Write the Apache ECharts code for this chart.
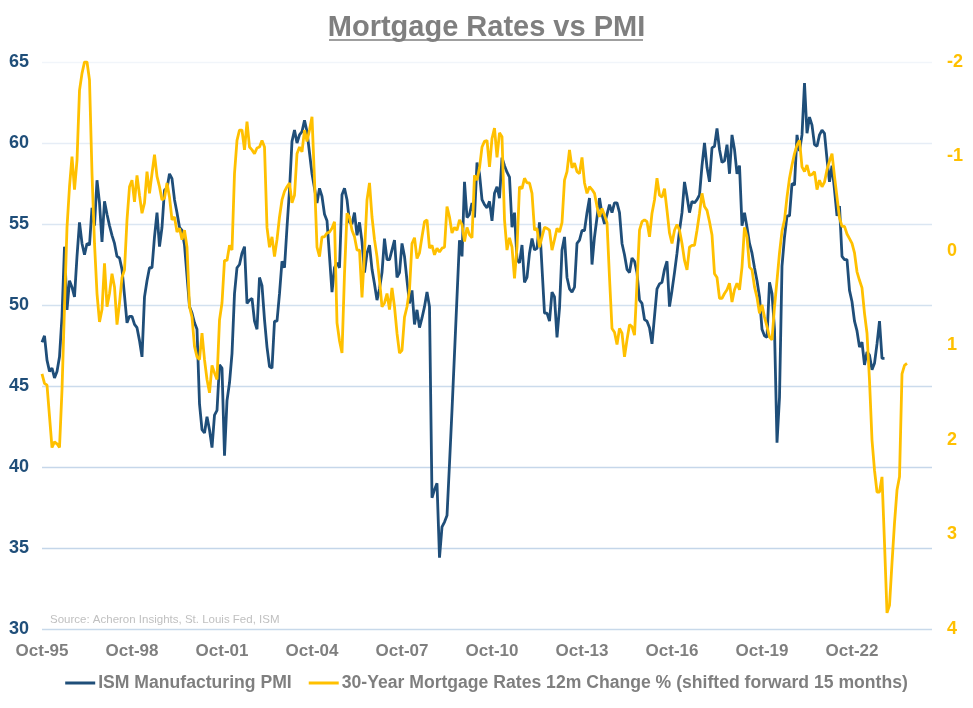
<!DOCTYPE html>
<html>
<head>
<meta charset="utf-8">
<script src="https://cdn.jsdelivr.net/npm/echarts@6/dist/echarts.min.js"></script>
<style>
html,body{margin:0;padding:0;background:#fff;}
#chart{width:973px;height:708px;}
</style>
</head>
<body>
<div id="chart"></div>
<script>
// ---- Data ----
const startYear = 1995, startMonthIndex = 9, monthCount = 357; // monthly axis from Oct-95
const monthNames = ['Jan','Feb','Mar','Apr','May','Jun','Jul','Aug','Sep','Oct','Nov','Dec'];
const categories = [];
for (let k = 0; k < monthCount; k++) {
  const m = (startMonthIndex + k) % 12;
  const y = startYear + Math.floor((startMonthIndex + k) / 12);
  categories.push(monthNames[m] + '-' + String(y % 100).padStart(2, '0'));
}
const tickLabels = ['Oct-95','Oct-98','Oct-01','Oct-04','Oct-07','Oct-10','Oct-13','Oct-16','Oct-19','Oct-22'];
const leftTicks = [30, 35, 40, 45, 50, 55, 60, 65];
const rightTicks = [-2, -1, 0, 1, 2, 3, 4];

const ismPMI = [
  47.7, 48.1, 46.6, 45.9, 46.1, 45.5, 45.9, 46.8, 49.3, 53.6,
  49.7, 51.5, 51.1, 50.5, 53.0, 55.1, 53.8, 53.1, 53.8, 53.7,
  56.0, 54.9, 57.7, 56.3, 53.9, 56.4, 55.6, 54.9, 54.3, 53.8,
  53.0, 52.9, 52.2, 50.6, 48.9, 49.3, 49.3, 48.8, 48.6, 47.8,
  46.8, 50.5, 51.5, 52.3, 52.3, 54.2, 55.7, 53.6, 54.8, 57.1,
  57.2, 58.1, 57.8, 56.5, 55.7, 54.8, 54.6, 53.7, 51.8,
  49.9, 49.5, 48.9, 48.5, 43.9, 42.3, 42.1, 43.1, 42.3, 41.2,
  43.2, 43.5, 46.3, 46.1, 40.7, 44.1, 45.2, 47.0, 50.7, 52.3,
  52.5, 53.2, 53.6, 50.1, 50.3, 50.4, 49.0, 48.5, 51.7, 51.2,
  49.1, 47.4, 46.2, 46.1, 49.0, 49.0, 50.7, 52.7, 52.3, 54.8,
  57.1, 60.1, 60.8, 60.0, 60.5, 60.7, 61.4, 60.7, 59.4, 58.1,
  57.2, 56.3, 57.2, 56.7, 55.6, 55.2, 53.0, 50.8, 52.3, 52.6,
  52.3,
  56.8, 57.2, 56.5, 55.1, 55.0, 55.7, 54.3, 55.1, 53.9, 52.0,
  53.2, 53.7, 52.2, 51.3, 50.3, 51.0, 52.0, 54.1, 52.8, 52.8,
  53.4, 54.0, 51.7, 52.0, 53.8, 53.0, 51.5, 50.1, 50.9, 48.8,
  49.7, 48.6, 49.2, 49.9, 50.8, 49.9,
  38.1, 38.6, 39.0, 34.4, 36.3, 36.6, 37.0, 40.2, 43.5, 47.0,
  50.5, 54.0, 53.0, 57.6, 55.4, 55.6, 56.3, 55.4, 58.8,
  58.1, 56.5, 56.2, 56.0, 56.4, 55.2, 56.9, 57.3, 56.6, 59.1,
  58.6, 58.2, 57.9, 54.8, 55.7, 52.8, 52.6, 53.7, 51.4, 51.7,
  53.2, 54.1, 53.4, 53.5, 55.1, 52.3, 49.5, 49.5, 49.0, 50.8,
  50.5, 48.0, 49.8, 53.4, 54.2, 51.7, 51.0, 50.8, 51.1, 53.8,
  54.0, 54.6, 54.6, 55.7, 56.6, 52.5, 54.2, 55.4, 56.6, 55.6,
  55.0, 55.6, 56.2, 55.7, 56.3, 56.3, 55.7, 53.8, 53.1, 52.2,
  52.0,
  52.9, 52.7, 52.0, 50.3, 50.1, 49.1, 49.0, 48.6, 47.6, 49.3,
  51.0, 51.3, 51.4, 52.2, 52.7, 49.9, 50.9, 52.0, 53.2, 54.6,
  55.7, 57.6, 56.7, 55.7, 56.4, 56.3, 56.5, 56.8, 58.6, 60.0,
  58.5, 57.6, 59.7, 59.8, 60.9, 59.6, 58.8, 58.9, 59.9, 58.1,
  60.5, 59.6, 58.1, 58.6, 54.9, 55.7, 54.8, 53.8, 53.2, 52.3,
  51.5, 50.5, 48.5, 48.1, 48.0, 51.4, 50.7, 48.5, 41.5, 44.3,
  52.4, 54.2, 55.5, 55.5, 57.5, 57.4, 60.5, 59.5, 60.5, 63.7,
  60.6, 61.6, 61.1, 59.9, 59.8, 60.5, 60.8, 60.6, 59.0, 57.6,
  58.6, 57.1, 55.5, 56.1, 53.0, 52.8, 52.8, 50.9, 50.2, 49.0,
  48.4, 47.4, 47.7, 46.3, 47.1, 46.9, 46.0, 46.4, 47.6, 49.0,
  46.7, 46.7
];

const mortgageChange = [
  1.30, 1.40, 1.42, 1.75, 2.08, 2.02, 2.04, 2.08, 1.47, 0.59,
  -0.25, -0.68, -1.00, -0.65, -0.96, -1.70, -1.88, -2.00, -2.00, -1.81,
  -0.82, -0.08, 0.45, 0.75, 0.62, 0.13, 0.59, 0.45, 0.24, 0.38,
  0.78, 0.55, 0.28, 0.20, -0.33, -0.68, -0.75, -0.52, -0.80, -0.59,
  -0.40, -0.51, -0.84, -0.61, -0.82, -1.02, -0.79, -0.68, -0.54, -0.56,
  -0.72, -0.57, -0.33, -0.36, -0.20,
  -0.24, -0.12, -0.22, -0.04, 0.59, 0.70, 1.01, 1.12, 1.15, 0.87,
  1.15, 1.36, 1.50, 1.21, 1.29, 1.36, 0.73, 0.55, 0.10, 0.10,
  -0.06, -0.01, -0.82, -1.17, -1.28, -1.28, -1.07, -1.37, -1.10, -1.07,
  -1.03, -1.09, -1.10, -1.17, -1.10, -0.25, -0.04, -0.15, 0.06, -0.12,
  -0.36, -0.54, -0.63, -0.68, -0.72, -0.51, -0.59, -1.03, -1.10, -1.05,
  -1.28, -1.16, -1.28, -1.42, -0.75, -0.04, 0.06, -0.15, -0.15, -0.19,
  -0.20,
  -0.24, -0.31, 0.76, 0.95, 1.08, 0.24, -0.40, -0.36, -0.22, -0.15,
  -0.01, -0.01, 0.49, 0.02, -0.54, -0.72, -0.36, -0.12, 0.06, 0.31,
  0.59, 0.55, 0.45, 0.62, 0.39, 0.59, 0.87, 1.08, 1.05, 0.70,
  0.59, 0.41, -0.08, -0.14, 0.08, 0.02, -0.15, -0.31, -0.33, -0.03,
  -0.06, 0.04, -0.03, 0.01, -0.03, -0.04, -0.47, -0.36, -0.19, -0.25,
  -0.22, -0.33, -0.28, -0.10, -0.25, -0.17, -0.14, -0.80, -0.75, -0.88,
  -1.10, -1.16, -1.17, -0.89, -1.19, -1.30, -0.99, -1.25, -1.21, -0.33,
  -0.01, -0.14, -0.04, 0.29, -0.04, -0.68, -0.66, -0.77, -0.72, -0.72,
  -0.61, -0.22, -0.24, -0.04, -0.15, -0.25, -0.24, -0.22, -0.01, -0.12,
  -0.24, -0.20, -0.30, -0.75, -0.84, -1.07, -0.88, -0.93, -0.84, -0.82,
  -0.99, -0.72, -0.61, -0.68, -0.65, -0.61, -0.47, -0.36, -0.45, -0.38,
  -0.30, 0.28, 0.82, 0.86, 0.99, 0.82, 0.87, 1.12, 0.94, 0.78,
  0.80, 0.89, 0.34, -0.22, -0.31, -0.33, -0.31, -0.15, -0.40, -0.54,
  -0.77, -0.59, -0.57, -0.66, -0.43, -0.19, -0.08, -0.22, -0.28, -0.22,
  -0.08, 0.10, 0.20, -0.04, -0.06, -0.06, -0.22, -0.40, -0.61, -0.47,
  -0.43, -0.31, -0.17, 0.24, 0.28, 0.50, 0.50, 0.45, 0.41, 0.34,
  0.54, 0.41, 0.34, 0.41, 0.17, -0.25, -0.15, 0.17, 0.20, 0.38,
  0.49, 0.66, 0.57, 0.70, 0.80, 0.91, 0.94, 0.59, 0.31, 0.02,
  -0.21, -0.33, -0.57, -0.77, -0.91, -1.03, -1.12, -1.17, -0.89, -0.84,
  -0.91, -0.80, -0.81, -0.84, -0.65, -0.75, -0.68, -0.73, -0.86, -0.95,
  -1.03, -0.79, -0.57, -0.35, -0.26, -0.26, -0.18, -0.13, -0.08, 0.02,
  0.22, 0.31, 0.39, 0.66, 0.87, 1.37, 2.00, 2.32, 2.55, 2.55,
  2.39, 3.09, 3.83, 3.75, 3.30, 2.88, 2.53, 2.39, 1.30, 1.21,
  1.19
];

const seriesNames = ['ISM Manufacturing PMI', '30-Year Mortgage Rates 12m Change % (shifted forward 15 months)'];
const titleText = 'Mortgage Rates vs PMI';
const sourceText = 'Source: Acheron Insights, St. Louis Fed, ISM';

// ---- Chart ----
const FONT = '"Liberation Sans", Arial, sans-serif';
const chart = echarts.init(document.getElementById('chart'), null, {renderer: 'canvas'});
chart.setOption({
  animation: false,
  backgroundColor: '#ffffff',
  title: {
    text: titleText,
    left: 'center',
    top: 8,
    textStyle: {fontFamily: FONT, fontSize: 29, fontWeight: 'bold', color: '#7f7f7f'}
  },
  graphic: [
    {type: 'line', shape: {x1: 329, y1: 40, x2: 643, y2: 40}, style: {stroke: '#7f7f7f', lineWidth: 1.5}, silent: true},
    {type: 'text', left: 50, top: 614, style: {text: sourceText, fill: '#c0c0c0', font: '11.5px "Liberation Sans", Arial, sans-serif'}, silent: true}
  ],
  legend: {
    bottom: 11,
    left: 'center',
    icon: 'rect',
    itemWidth: 30,
    itemHeight: 3,
    itemGap: 17,
    textStyle: {fontFamily: FONT, fontSize: 17.6, fontWeight: 'bold', color: '#7f7f7f', padding: [0, 0, 0, -2]},
    data: seriesNames
  },
  grid: {left: 42, right: 41, top: 62, bottom: 79},
  xAxis: {
    type: 'category',
    data: categories,
    boundaryGap: false,
    axisLine: {show: false},
    axisTick: {show: false},
    splitLine: {show: false},
    axisLabel: {
      interval: (idx, val) => tickLabels.includes(val),
      margin: 14,
      fontFamily: FONT, fontSize: 17, fontWeight: 'bold', color: '#7f7f7f'
    }
  },
  yAxis: [
    {
      type: 'value',
      min: leftTicks[0], max: leftTicks[leftTicks.length - 1], interval: 5,
      axisLine: {show: false}, axisTick: {show: false},
      axisLabel: {margin: 13, fontFamily: FONT, fontSize: 18, fontWeight: 'bold', color: '#1f4e79'},
      splitLine: {show: true, lineStyle: {width: 1.3, color: ['#c8d9ea','#c4d6e9','#c6d7ea','#cbdbec','#d3e1ef','#dbe6f2','#e6edf6','#f1f5fa']}}
    },
    {
      type: 'value',
      inverse: true,
      min: rightTicks[0], max: rightTicks[rightTicks.length - 1], interval: 1,
      axisLine: {show: false}, axisTick: {show: false},
      axisLabel: {margin: 15, fontFamily: FONT, fontSize: 18, fontWeight: 'bold', color: '#ffc000'},
      splitLine: {show: false}
    }
  ],
  series: [
    {
      name: seriesNames[0], type: 'line', yAxisIndex: 0, data: ismPMI,
      showSymbol: false, symbol: 'none', smooth: false,
      lineStyle: {color: '#1f4e79', width: 2.8}, itemStyle: {color: '#1f4e79'}, z: 2
    },
    {
      name: seriesNames[1], type: 'line', yAxisIndex: 1, data: mortgageChange,
      showSymbol: false, symbol: 'none', smooth: false,
      lineStyle: {color: '#ffc000', width: 2.8}, itemStyle: {color: '#ffc000'}, z: 3
    }
  ]
});
</script>
</body>
</html>
